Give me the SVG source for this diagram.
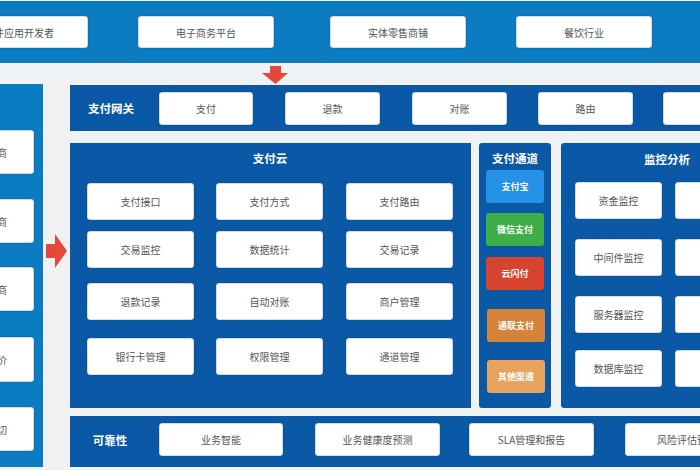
<svg xmlns="http://www.w3.org/2000/svg" width="700" height="470" viewBox="0 0 700 470">
<defs>
<style>
.bg{fill:#eff1f3}
.lb{fill:#0b7cc1}
.db{fill:#0b58a6}
.box{fill:#ffffff;stroke:#0a3f78;stroke-opacity:0.35;stroke-width:1}
.t{font-family:"Noto Sans CJK SC","Noto Sans",sans-serif;font-size:10px;fill:#555;text-anchor:middle;dominant-baseline:central}
.h{font-family:"Noto Sans CJK SC","Noto Sans",sans-serif;font-size:11.5px;font-weight:bold;fill:#fff;text-anchor:middle;dominant-baseline:central}
.c{font-family:"Noto Sans CJK SC","Noto Sans",sans-serif;font-size:9px;font-weight:bold;fill:#fff;text-anchor:middle;dominant-baseline:central}
.arr{fill:#e5473d}
</style>
</defs>
<rect class="bg" x="0" y="0" width="700" height="470"/>

<g id="users">
<rect class="lb" x="0" y="1" width="700" height="62"/>
<g id="u1"><rect class="box" x="-50" y="16" width="138" height="32" rx="3"/><text class="t" x="54" y="32" style="text-anchor:end">件应用开发者</text></g>
<g id="u2"><rect class="box" x="138" y="16" width="136" height="32" rx="3"/><text class="t" x="206" y="32">电子商务平台</text></g>
<g id="u3"><rect class="box" x="330" y="16" width="136" height="32" rx="3"/><text class="t" x="398" y="32">实体零售商铺</text></g>
<g id="u4"><rect class="box" x="516" y="16" width="136" height="32" rx="3"/><text class="t" x="584" y="32">餐饮行业</text></g>
</g>

<g id="leftcol">
<rect class="lb" x="0" y="84" width="43" height="383"/>
<g id="l1"><rect class="box" x="-60" y="130" width="94" height="44" rx="3"/><text class="t" x="7" y="152" style="text-anchor:end">商</text></g>
<g id="l2"><rect class="box" x="-60" y="199" width="94" height="44" rx="3"/><text class="t" x="7" y="221" style="text-anchor:end">商</text></g>
<g id="l3"><rect class="box" x="-60" y="267" width="94" height="44" rx="3"/><text class="t" x="7" y="289" style="text-anchor:end">商</text></g>
<g id="l4"><rect class="box" x="-60" y="337" width="94" height="45" rx="3"/><text class="t" x="7" y="359" style="text-anchor:end">价</text></g>
<g id="l5"><rect class="box" x="-60" y="407" width="94" height="44" rx="3"/><text class="t" x="7" y="429" style="text-anchor:end">切</text></g>
</g>

<g id="connectors">
<polygon class="arr" points="270,66 281,66 281,73 288,73 275.5,84 262,73 270,73"/>
<polygon class="arr" points="46,244 55,244 55,234 67,251 55,268 55,258 46,258"/>
</g>

<g id="gateway">
<rect class="db" x="70" y="85" width="640" height="46"/>
<text class="h" x="111" y="108">支付网关</text>
<g id="g1"><rect class="box" x="159" y="92" width="94" height="33" rx="3"/><text class="t" x="206" y="108.5">支付</text></g>
<g id="g2"><rect class="box" x="285" y="92" width="95" height="33" rx="3"/><text class="t" x="332.5" y="108.5">退款</text></g>
<g id="g3"><rect class="box" x="412" y="92" width="95" height="33" rx="3"/><text class="t" x="459.5" y="108.5">对账</text></g>
<g id="g4"><rect class="box" x="538" y="92" width="95" height="33" rx="3"/><text class="t" x="585.5" y="108.5">路由</text></g>
<g id="g5"><rect class="box" x="663" y="92" width="95" height="33" rx="3"/></g>
</g>

<g id="cloud">
<rect class="db" x="70" y="143" width="401" height="265"/>
<text class="h" x="270" y="158">支付云</text>
<g id="c1"><rect class="box" x="87" y="183" width="107" height="37" rx="3"/><text class="t" x="140.5" y="201.5">支付接口</text></g>
<g id="c2"><rect class="box" x="216" y="183" width="107" height="37" rx="3"/><text class="t" x="269.5" y="201.5">支付方式</text></g>
<g id="c3"><rect class="box" x="346" y="183" width="107" height="37" rx="3"/><text class="t" x="399.5" y="201.5">支付路由</text></g>
<g id="c4"><rect class="box" x="87" y="231" width="107" height="37" rx="3"/><text class="t" x="140.5" y="249.5">交易监控</text></g>
<g id="c5"><rect class="box" x="216" y="231" width="107" height="37" rx="3"/><text class="t" x="269.5" y="249.5">数据统计</text></g>
<g id="c6"><rect class="box" x="346" y="231" width="107" height="37" rx="3"/><text class="t" x="399.5" y="249.5">交易记录</text></g>
<g id="c7"><rect class="box" x="87" y="283" width="107" height="37" rx="3"/><text class="t" x="140.5" y="301.5">退款记录</text></g>
<g id="c8"><rect class="box" x="216" y="283" width="107" height="37" rx="3"/><text class="t" x="269.5" y="301.5">自动对账</text></g>
<g id="c9"><rect class="box" x="346" y="283" width="107" height="37" rx="3"/><text class="t" x="399.5" y="301.5">商户管理</text></g>
<g id="c10"><rect class="box" x="87" y="338" width="107" height="37" rx="3"/><text class="t" x="140.5" y="356.5">银行卡管理</text></g>
<g id="c11"><rect class="box" x="216" y="338" width="107" height="37" rx="3"/><text class="t" x="269.5" y="356.5">权限管理</text></g>
<g id="c12"><rect class="box" x="346" y="338" width="107" height="37" rx="3"/><text class="t" x="399.5" y="356.5">通道管理</text></g>
</g>

<g id="channels">
<rect class="db" x="479" y="143" width="72" height="265" rx="3"/>
<text class="h" x="515" y="158">支付通道</text>
<g id="ch1"><rect x="486" y="170" width="58" height="33" rx="3" fill="#2592e8"/><text class="c" x="515" y="186.5">支付宝</text></g>
<g id="ch2"><rect x="486" y="213" width="58" height="33" rx="3" fill="#3dae48"/><text class="c" x="515" y="229.5">微信支付</text></g>
<g id="ch3"><rect x="486" y="257" width="58" height="33" rx="3" fill="#d8432f"/><text class="c" x="515" y="273.5">云闪付</text></g>
<g id="ch4"><rect x="487" y="309" width="58" height="33" rx="3" fill="#d6833a"/><text class="c" x="516" y="325.5">通联支付</text></g>
<g id="ch5"><rect x="487" y="360" width="58" height="33" rx="3" fill="#e8a35f"/><text class="c" x="516" y="376.5">其他渠道</text></g>
</g>

<g id="monitor">
<rect class="db" x="561" y="143" width="150" height="265" rx="3"/>
<text class="h" x="667" y="159">监控分析</text>
<g id="m1"><rect class="box" x="575" y="182" width="87" height="37" rx="3"/><text class="t" x="618.5" y="200.5">资金监控</text></g>
<g id="m2"><rect class="box" x="575" y="239" width="87" height="37" rx="3"/><text class="t" x="618.5" y="257.5">中间件监控</text></g>
<g id="m3"><rect class="box" x="575" y="296" width="87" height="37" rx="3"/><text class="t" x="618.5" y="314.5">服务器监控</text></g>
<g id="m4"><rect class="box" x="575" y="350" width="87" height="37" rx="3"/><text class="t" x="618.5" y="368.5">数据库监控</text></g>
<g id="m5"><rect class="box" x="675" y="182" width="87" height="37" rx="3"/></g>
<g id="m6"><rect class="box" x="675" y="239" width="87" height="37" rx="3"/></g>
<g id="m7"><rect class="box" x="675" y="296" width="87" height="37" rx="3"/></g>
<g id="m8"><rect class="box" x="675" y="350" width="87" height="37" rx="3"/></g>
</g>

<g id="reliability">
<rect class="db" x="70" y="416" width="640" height="51"/>
<text class="h" x="110" y="440">可靠性</text>
<g id="r1"><rect class="box" x="159" y="423" width="124" height="33" rx="3"/><text class="t" x="221" y="439.5">业务智能</text></g>
<g id="r2"><rect class="box" x="315" y="423" width="125" height="33" rx="3"/><text class="t" x="377.5" y="439.5">业务健康度预测</text></g>
<g id="r3"><rect class="box" x="469" y="423" width="125" height="33" rx="3"/><text class="t" x="531.5" y="439.5">SLA管理和报告</text></g>
<g id="r4"><rect class="box" x="625" y="423" width="125" height="33" rx="3"/><text class="t" x="657" y="439.5" style="text-anchor:start">风险评估预</text></g>
</g>
</svg>
